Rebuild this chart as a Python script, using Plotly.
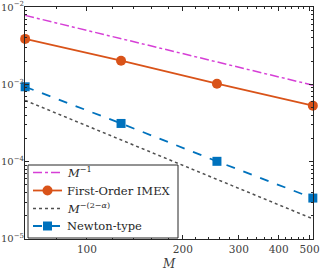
import plotly.graph_objects as go
import numpy as np

M = [64, 128, 256, 512]
ref_m1 = [7.8e-3, 3.9e-3, 1.95e-3, 9.75e-4]
imex = [3.87e-3, 2.02e-3, 1.02e-3, 5.3e-4]
ref_m2a = [6.2e-4, 1.91e-4, 5.9e-5, 1.82e-5]
newton = [9.3e-4, 3.12e-4, 1.01e-4, 3.38e-5]

names = ["<i>M</i><sup>−1</sup>", "First-Order IMEX", "<i>M</i><sup>−(2−<i>α</i>)</sup>", "Newton-type"]

xticks = [100, 200, 300, 400, 500]
xminor = [80, 120, 140, 160, 180, 220, 240, 260, 280, 320, 340, 360, 380, 420, 440, 460, 480]
yticks = [1e-5, 1e-4, 1e-3, 1e-2]
yticktext = ["10<sup>−5</sup>", "10<sup>−4</sup>", "10<sup>−3</sup>", "10<sup>−2</sup>"]
yminor = [k * 10.0 ** e for e in (-5, -4, -3) for k in range(2, 10)]

FONT = "DejaVu Serif"
AX = "#262626"
COLORS = ["#D63FD6", "#D95319", "#505050", "#0072BD"]
DASHES = ["dashdot", "solid", "dot", "dash"]
SYMBOLS = [None, "circle", None, "square"]

fig = go.Figure()
series = [ref_m1, imex, ref_m2a, newton]
for s, nm, c, d, sym in zip(series, names, COLORS, DASHES, SYMBOLS):
    if sym:
        fig.add_trace(go.Scatter(x=M, y=s, mode="lines+markers", name=nm,
                                 line=dict(color=c, width=1.8, dash=d),
                                 marker=dict(symbol=sym, size=10 if sym == "circle" else 9, color=c),
                                 cliponaxis=False))
    else:
        fig.add_trace(go.Scatter(x=M, y=s, mode="lines", name=nm,
                                 line=dict(color=c, width=1.5, dash=d), cliponaxis=False))

# Legend drawn as a boxed key (pixel-sized items anchored in paper coordinates)
PW, PH = 288.0, 232.0
def px(xp):  # absolute pixel x -> paper
    return (xp - 25) / PW
def py(yp):  # absolute pixel y -> paper
    return (239 - yp) / PH

shapes = [dict(type="rect", xref="paper", yref="paper", x0=px(28), x1=px(178), y0=py(238), y1=py(165),
               line=dict(color=AX, width=1), fillcolor="white", layer="above")]
annotations = []
rows = [172.5, 190.5, 208.5, 226]
for r, nm, c, d, sym in zip(rows, names, COLORS, DASHES, SYMBOLS):
    lw = 1.8 if sym else 1.5
    shapes.append(dict(type="line", xref="paper", yref="paper", x0=px(33), x1=px(62), y0=py(r), y1=py(r),
                       line=dict(color=c, width=lw, dash=d), layer="above"))
    if sym:
        half = 5 if sym == "circle" else 4.5
        shapes.append(dict(type="circle" if sym == "circle" else "rect",
                           xref="paper", yref="paper", xsizemode="pixel", ysizemode="pixel",
                           xanchor=px(47.5), yanchor=py(r), x0=-half, x1=half, y0=-half, y1=half,
                           line=dict(color=c, width=0), fillcolor=c, layer="above"))
    annotations.append(dict(text=nm, x=px(65), y=py(r), xref="paper", yref="paper",
                            xanchor="left", yanchor="middle", showarrow=False,
                            font=dict(family=FONT, size=11.5, color="#262626")))
annotations.append(dict(text="<i>M</i>", x=0.5, y=-0.07, xref="paper", yref="paper",
                        xanchor="center", yanchor="top", showarrow=False,
                        font=dict(family=FONT, size=12, color="#404040")))

fig.update_layout(
    width=321, height=270,
    margin=dict(l=25, r=8, t=7, b=31),
    paper_bgcolor="white", plot_bgcolor="white",
    font=dict(family=FONT, size=11, color="#404040"),
    showlegend=False,
    shapes=shapes,
    annotations=annotations,
)
fig.update_xaxes(
    type="log", range=[np.log10(64) - 0.0005, np.log10(512) + 0.0005],
    tickmode="array", tickvals=xticks, ticktext=[str(v) for v in xticks],
    ticks="inside", ticklen=4, tickcolor=AX, tickwidth=1,
    showline=True, linecolor=AX, linewidth=1, mirror="ticks",
    showgrid=False, zeroline=False, automargin=False, ticklabeloverflow="allow",
    tickfont=dict(family=FONT, size=10.5, color="#404040"),
    minor=dict(tickmode="array", tickvals=xminor, ticks="inside", ticklen=2, tickcolor=AX, showgrid=False),
)
fig.update_yaxes(
    type="log", range=[-5.0005, -1.9995],
    tickmode="array", tickvals=yticks, ticktext=yticktext,
    ticks="inside", ticklen=4, tickcolor=AX, tickwidth=1,
    showline=True, linecolor=AX, linewidth=1, mirror="ticks",
    showgrid=False, zeroline=False, automargin=False, ticklabeloverflow="allow",
    ticklabelstandoff=-2,
    tickfont=dict(family=FONT, size=10, color="#404040"),
    minor=dict(tickmode="array", tickvals=yminor, ticks="inside", ticklen=2, tickcolor=AX, showgrid=False),
)

fig.write_html("out.html", config={"displayModeBar": False},
               post_script="document.body.style.margin='0';")
